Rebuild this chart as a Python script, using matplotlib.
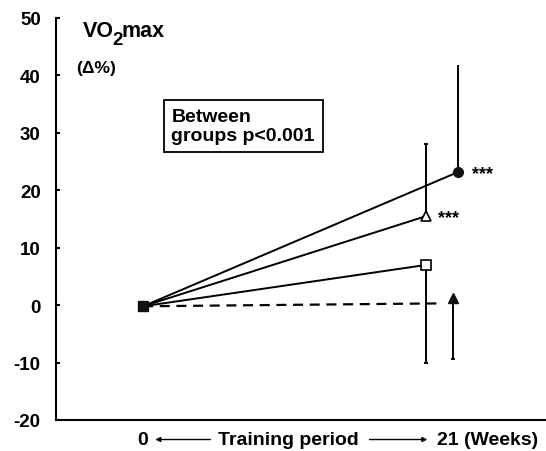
import matplotlib
matplotlib.use("Agg")
from matplotlib import pyplot as plt
from matplotlib.transforms import offset_copy

plt.rcParams['font.family'] = ['Liberation Sans', 'DejaVu Sans']
plt.rcParams['font.weight'] = 'bold'

# VO2max change (%) after 21 weeks, per group
weeks = [0, 21]
baseline = -0.2
circle_mean = 23.2
circle_sd_up = 18.7
triangle_mean = 15.5
triangle_sd_up = 12.6
square_mean = 7.0
square_sd_down = 17.0
control_mean = 0.3
control_sd_down = 9.6

# small horizontal offsets so the end points don't overlap (weeks)
circle_off = 2.4
control_off = 2.0
dash_end_off = 0.9

yticks = [-20, -10, 0, 10, 20, 30, 40, 50]

fig = plt.figure(figsize=(5.46, 4.52), dpi=100)
ax = fig.add_axes([0.1026, 0.0686, 0.8974, 0.8894])
ax.set_xlim(-6.46, 29.9)
ax.set_ylim(-20, 50)

lw = 1.4
x_end = weeks[1]

# lines from baseline to each group
ax.plot([weeks[0], x_end + circle_off], [baseline, circle_mean], color='k', lw=lw, zorder=2)
ax.plot([weeks[0], x_end], [baseline, triangle_mean], color='k', lw=lw, zorder=2)
ax.plot([weeks[0], x_end], [baseline, square_mean], color='k', lw=lw, zorder=2)
ax.plot([weeks[0], x_end + dash_end_off], [baseline, control_mean], color='k', lw=1.6,
        dashes=(4.5, 3), zorder=2)

# error bars
ax.errorbar([x_end + circle_off], [circle_mean], yerr=[[0], [circle_sd_up]], fmt='none',
            ecolor='k', elinewidth=lw, capsize=0, zorder=1)
ax.errorbar([x_end], [triangle_mean], yerr=[[0], [triangle_sd_up]], fmt='none',
            ecolor='k', elinewidth=lw, capsize=1.5, capthick=lw, zorder=1)
ax.errorbar([x_end], [square_mean], yerr=[[square_sd_down], [0]], fmt='none',
            ecolor='k', elinewidth=lw, capsize=1.5, capthick=lw, zorder=1)
ax.errorbar([x_end + control_off], [control_mean], yerr=[[control_sd_down], [0]], fmt='none',
            ecolor='k', elinewidth=lw, capsize=1.5, capthick=lw, zorder=1)

# markers
ax.plot([weeks[0]], [baseline], marker='s', ms=7.5, color='#111111', zorder=4)
ax.plot([x_end + circle_off], [circle_mean], marker='o', ms=7, color='#111111', zorder=4)
ax.plot([x_end], [triangle_mean], marker='^', ms=7.5, mfc='white', mec='k', mew=1.2, zorder=4)
ax.plot([x_end], [square_mean], marker='s', ms=6.5, mfc='white', mec='k', mew=1.2, zorder=4)
ax.plot([x_end + control_off], [control_mean + 1.0], marker='^', ms=7.5, color='#111111', zorder=4)

# significance stars
ax.text(x_end + circle_off + 1.0, circle_mean - 1.0, '***', fontsize=13, va='baseline', ha='left')
ax.text(x_end + 0.9, triangle_mean - 1.0, '***', fontsize=13, va='baseline', ha='left')

# box text
ax.text(2.1, 31.2, 'Between\ngroups p<0.001', fontsize=14, ha='left', va='center',
        linespacing=1.15,
        bbox=dict(boxstyle='square,pad=0.4', fc='white', ec='k', lw=1.3))

# axis title inside: VO2max with a big subscript
renderer = fig.canvas.get_renderer()
tx, tyy = -4.45, 46.9
t1 = ax.text(tx, tyy, 'VO', fontsize=15.5, ha='left', va='baseline')
w1 = t1.get_window_extent(renderer).width - 1.5
t2 = ax.text(tx, tyy, '2', fontsize=13.5, ha='left', va='baseline',
             transform=offset_copy(ax.transData, fig=fig, x=w1 * 72 / 100, y=-6, units='points'))
w2 = t2.get_window_extent(renderer).width - 1.5
ax.text(tx, tyy, 'max', fontsize=15.5, ha='left', va='baseline',
        transform=offset_copy(ax.transData, fig=fig, x=(w1 + w2) * 72 / 100, y=0, units='points'))
ax.text(-4.95, 41.4, '(\u0394%)', fontsize=12.5, ha='left', va='center')

# spines and ticks
ax.spines['top'].set_visible(False)
ax.spines['right'].set_visible(False)
ax.spines['left'].set_linewidth(1.5)
ax.spines['bottom'].set_linewidth(1.5)
ax.set_yticks(yticks)
ax.set_yticklabels([str(t) for t in yticks], fontsize=13.5, fontweight='bold')
ax.tick_params(axis='y', direction='in', length=3, width=1.5, pad=11)
ax.set_xticks([])

# x axis labels with arrows
ty = -23.4
ax.text(weeks[0], ty, '0', fontsize=14, ha='center', va='center', clip_on=False)
ax.text(10.8, ty, 'Training period', fontsize=14, ha='center', va='center', clip_on=False)
ax.text(21.8, ty, '21 (Weeks)', fontsize=14, ha='left', va='center', clip_on=False)
ax.annotate('', xy=(0.7, ty), xytext=(5.2, ty), annotation_clip=False,
            arrowprops=dict(arrowstyle='-|>', color='k', lw=1.0, mutation_scale=7))
ax.annotate('', xy=(21.3, ty), xytext=(16.6, ty), annotation_clip=False,
            arrowprops=dict(arrowstyle='-|>', color='k', lw=1.0, mutation_scale=7))

fig.savefig('out.png', dpi=100)
